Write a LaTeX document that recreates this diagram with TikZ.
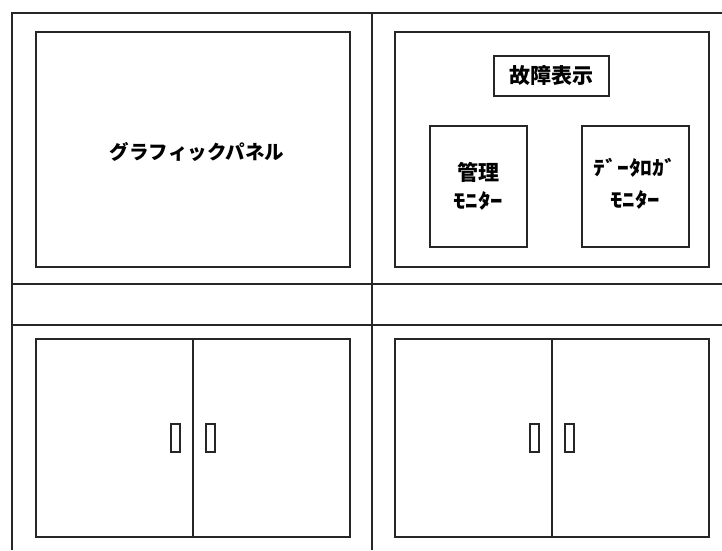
\documentclass[tikz,border=0pt]{standalone}
\usepackage{fontspec}
\newfontfamily\jp{Noto Sans CJK JP}
\begin{document}
\begin{tikzpicture}[x=1pt,y=-1pt,
  box/.style={draw=black!85, line width=1.5pt, inner sep=0pt, rectangle},
  frame/.style={draw=black!85, line width=1.5pt},
  lbl/.style={inner sep=0pt, font=\jp\bfseries}]
\useasboundingbox[fill=white] (0,0) rectangle (722,550);
% frame
\coordinate (tl) at (12,13); \coordinate (tr) at (722,13);
\coordinate (bl) at (12,550); \coordinate (tm) at (372,13); \coordinate (bm) at (372,550);
\coordinate (h1l) at (12,284); \coordinate (h1r) at (722,284);
\coordinate (h2l) at (12,325); \coordinate (h2r) at (722,325);
\draw[frame] (tr) -- (tl) -- (bl);
\draw[frame] (tm) -- (bm);
\draw[frame] (h1l) -- (h1r);
\draw[frame] (h2l) -- (h2r);
% top panels
\node[box, minimum width=314pt, minimum height=235pt] (gp) at (193,149.5) {};
\node[lbl, font=\jp\bfseries\fontsize{19.5}{20}\selectfont] (gpt) at (197,152) {グラフィックパネル};
\node[box, minimum width=314pt, minimum height=235pt] (rp) at (552,149.5) {};
\node[box, minimum width=115pt, minimum height=40pt, font=\jp\bfseries\fontsize{21}{22}\selectfont] (fault) at (551.5,76) {故障表示};
\node[box, minimum width=97pt, minimum height=121pt] (mon1) at (478.5,186.5) {};
\node[box, minimum width=107pt, minimum height=121pt] (mon2) at (635.5,186.5) {};
\node[lbl, font=\jp\bfseries\fontsize{21}{22}\selectfont] (m1a) at (478,172) {管理};
\node[lbl, font=\jp\bfseries\fontsize{20}{21}\selectfont] (m1b) at (478,201) {\scalebox{1.25}[1]{ﾓﾆﾀｰ}};
\node[lbl, font=\jp\bfseries\fontsize{20}{21}\selectfont] (m2a) at (635,168) {\scalebox{1.18}[1]{ﾃﾞｰﾀﾛｶﾞ}};
\node[lbl, font=\jp\bfseries\fontsize{20}{21}\selectfont] (m2b) at (635,200) {\scalebox{1.25}[1]{ﾓﾆﾀｰ}};
% cabinets
\node[box, minimum width=314pt, minimum height=198pt] (cl) at (193,438) {};
\node[box, minimum width=314pt, minimum height=198pt] (cr) at (552,438) {};
\draw[frame] (cl.north) -- (cl.south);
\draw[frame] (cr.north) -- (cr.south);
\node[box, line width=1.2pt, minimum width=9pt, minimum height=28pt] (hl1) at (175.5,438) {};
\node[box, line width=1.2pt, minimum width=9pt, minimum height=28pt] (hl2) at (210.5,438) {};
\node[box, line width=1.2pt, minimum width=9pt, minimum height=28pt] (hr1) at (534.5,438) {};
\node[box, line width=1.2pt, minimum width=9pt, minimum height=28pt] (hr2) at (569.5,438) {};
\end{tikzpicture}
\end{document}
